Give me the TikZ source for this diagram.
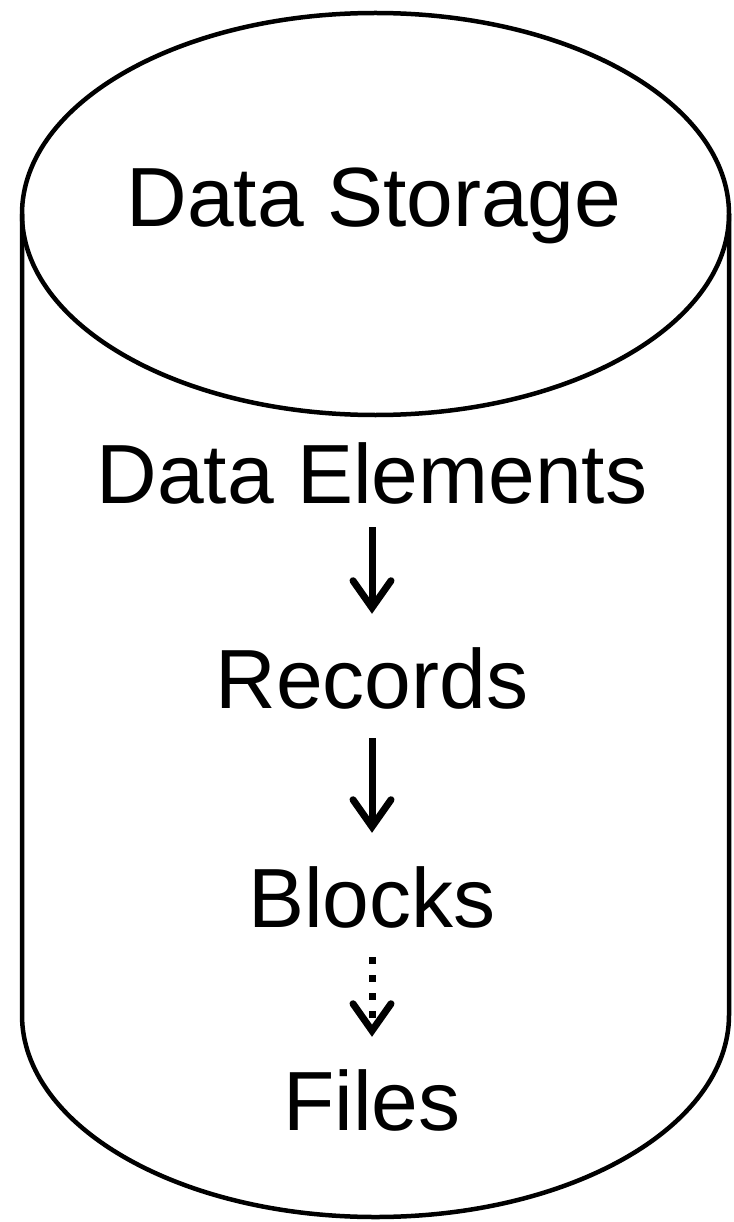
\documentclass[tikz,border=0pt]{standalone}
\usepackage{fontspec}
\setmainfont{Liberation Sans}
\usetikzlibrary{arrows.meta}
\tikzset{
  body/.style={line width=4.5pt, line join=round},
  label/.style={font=\fontsize{84}{84}\selectfont, inner sep=0pt,
    text height=60pt, text depth=0pt, anchor=base},
  flow/.style={line width=7pt,
    -{Straight Barb[length=27pt, width=38pt, line cap=round, line join=miter]}},
  flowdots/.style={flow, dash pattern=on 7pt off 11pt}
}
\begin{document}
\begin{tikzpicture}[x=1pt, y=-1pt]
  \useasboundingbox (0,0) rectangle (733,1222);
  % cylinder body and lid
  \draw[body] (22,214) -- (22,1015)
    arc[start angle=180, end angle=360, x radius=353.5pt, y radius=202pt]
    -- (729,214);
  \draw[body] (375.5,214) ellipse [x radius=353.5pt, y radius=201pt];
  % labels
  \node[label] (ds)  at (374,227)  {Data Storage};
  \node[label] (de)  at (372,503)  {Data Elements};
  \node[label] (rec) at (372,708)  {Records};
  \node[label] (blk) at (372,927)  {Blocks};
  \node[label] (fil) at (372,1130) {Files};
  % hierarchy arrows
  \draw[flow, shorten <=24pt, shorten >=34pt] (de.south) -- (rec.north);
  \draw[flow, shorten <=30pt, shorten >=34pt] (rec.south) -- (blk.north);
  \draw[flowdots, shorten <=30pt, shorten >=33pt] (blk.south) -- (fil.north);
\end{tikzpicture}
\end{document}
